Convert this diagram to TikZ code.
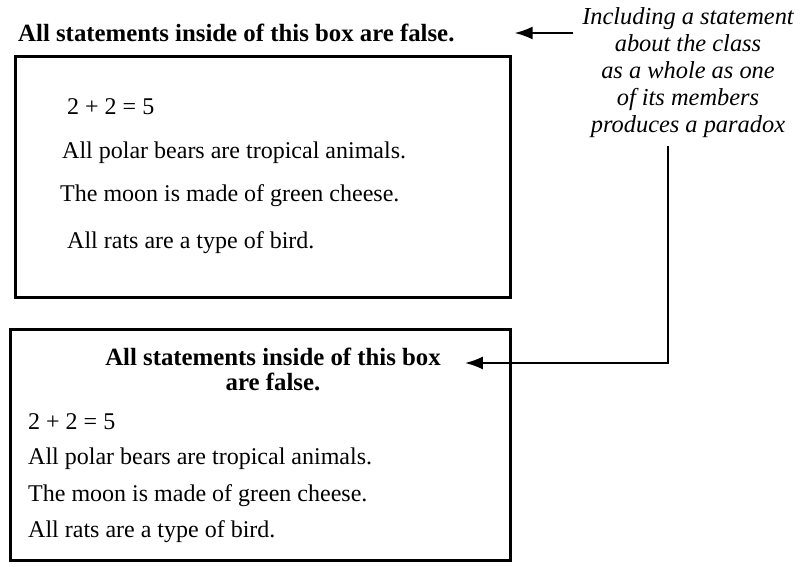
\documentclass[tikz,border=0pt]{standalone}
\usepackage{fontspec}
\setmainfont{Liberation Serif}
\usetikzlibrary{arrows.meta}

\begin{document}
\begin{tikzpicture}[x=1pt, y=-1pt,
    txt/.style={anchor=west, inner sep=0pt, font=\fontsize{24}{25}\selectfont},
    hdr/.style={inner sep=0pt, font=\fontsize{24.8}{25}\selectfont\bfseries},
    frame/.style={draw, line width=3pt, inner sep=0pt},
    pointer/.style={line width=1.8pt, -{Latex[length=18pt, width=13pt]}}]
      \useasboundingbox (0, 0) rectangle (803, 567);
      % upper box
      \node[hdr, anchor=west] (t1) at (18, 33) {All statements inside of this box are false.};
      \node[frame, minimum width=495pt, minimum height=240pt] (b1) at (262.5, 177) {};
      \node[txt] (a1) at (67, 107) {2 + 2 = 5};
      \node[txt] (a2) at (62, 153) {All polar bears are tropical animals.};
      \node[txt] (a3) at (60, 196) {The moon is made of green cheese.};
      \node[txt] (a4) at (67, 243) {All rats are a type of bird.};
      % lower box
      \node[frame, minimum width=500pt, minimum height=231pt] (b2) at (260, 444.5) {};
      \node[hdr, align=center] (t2) at (273, 369) {All statements inside of this box\\are false.};
      \node[txt] (c1) at (28, 422) {2 + 2 = 5};
      \node[txt] (c2) at (28, 459) {All polar bears are tropical animals.};
      \node[txt] (c3) at (28, 496) {The moon is made of green cheese.};
      \node[txt] (c4) at (28, 532) {All rats are a type of bird.};
      % comment on the right
      \node[inner sep=0pt, align=center, font=\fontsize{24.4}{27}\selectfont\itshape] (note) at (688, 73)
        {Including a statement\\about the class\\as a whole as one\\of its members\\produces a paradox};
      \draw[pointer, shorten <=9pt, shorten >=60pt] (note.west |- t1.east) -- (t1.east);
      \draw[pointer, shorten <=8pt] ([xshift=-20pt]note.south) |- ([xshift=24pt, yshift=6pt]t2.east);
    \end{tikzpicture}
\end{document}
